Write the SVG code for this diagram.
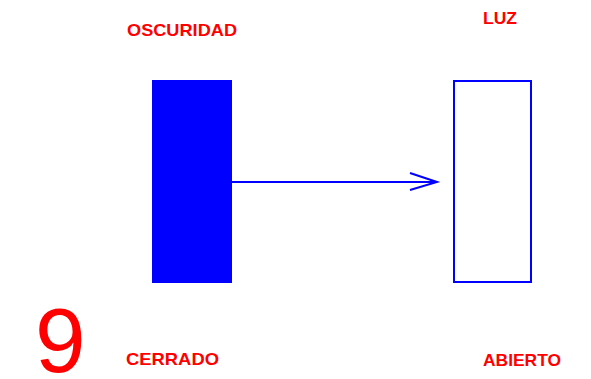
<svg xmlns="http://www.w3.org/2000/svg" width="591" height="379" viewBox="0 0 591 379">
<style>
.lbl{font-family:"Liberation Sans",Arial,sans-serif;font-weight:bold;font-size:17px;fill:#ff0000}
.num{font-family:"Liberation Sans",Arial,sans-serif;font-size:91px;fill:#ff0000}
.conn{stroke:#0000ff;stroke-width:2;fill:none}
</style>
<rect width="591" height="379" fill="#ffffff"/>
<g id="oscuridad">
<rect x="152" y="80" width="80" height="203" fill="#0000ff"/>
<text class="lbl" x="127" y="36" textLength="110" lengthAdjust="spacingAndGlyphs">OSCURIDAD</text>
<text class="lbl" x="126" y="365" textLength="93" lengthAdjust="spacingAndGlyphs">CERRADO</text>
</g>
<g id="luz">
<rect x="454" y="81" width="77" height="201" fill="none" stroke="#0000ff" stroke-width="2"/>
<text class="lbl" x="483" y="24" textLength="34" lengthAdjust="spacingAndGlyphs">LUZ</text>
<text class="lbl" x="483" y="366" textLength="78" lengthAdjust="spacingAndGlyphs">ABIERTO</text>
</g>
<g id="numero">
<text class="num" x="35" y="372">9</text>
</g>
<g id="connectors">
<line class="conn" x1="232" y1="182" x2="436" y2="182"/>
<polyline class="conn" points="410,173 437,182 410,190"/>
</g>
</svg>
